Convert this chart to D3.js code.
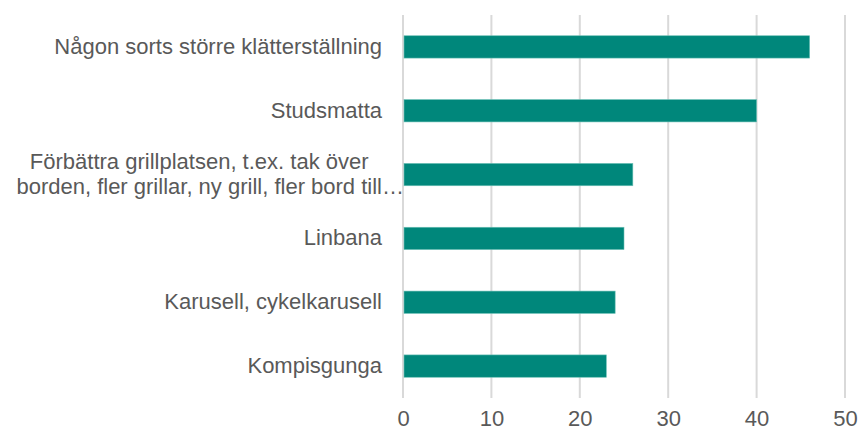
<!DOCTYPE html>
<html>
<head>
<meta charset="utf-8">
<script src="https://cdn.jsdelivr.net/npm/d3@7"></script>
<style>
  html, body { margin: 0; padding: 0; background: #fff; }
  svg { display: block; font-family: "Liberation Sans", Arial, sans-serif; }
</style>
</head>
<body>
<div id="chart"></div>
<script>
// data
const categories = [
  "Någon sorts större klätterställning",
  "Studsmatta",
  "Förbättra grillplatsen, t.ex. tak över borden, fler grillar, ny grill, fler bord till…",
  "Linbana",
  "Karusell, cykelkarusell",
  "Kompisgunga"
];
const labelLines = [
  ["Någon sorts större klätterställning"],
  ["Studsmatta"],
  ["Förbättra grillplatsen, t.ex. tak över", "borden, fler grillar, ny grill, fler bord till…"],
  ["Linbana"],
  ["Karusell, cykelkarusell"],
  ["Kompisgunga"]
];
const values = [46, 40, 26, 25, 24, 23];
const xTicks = [0, 10, 20, 30, 40, 50];

const width = 867, height = 432;
const margin = {top: 15, right: 22, bottom: 34, left: 403};
const fontSize = 22;

const svg = d3.select("#chart").append("svg")
    .attr("width", width)
    .attr("height", height);

const x = d3.scaleLinear()
    .domain([0, 50])
    .range([margin.left, width - margin.right]);

const y = d3.scaleBand()
    .domain(categories)
    .range([margin.top, height - margin.bottom])
    .paddingInner(0.65)
    .paddingOuter(0.325);

// gridlines
svg.append("g")
    .selectAll("line")
    .data(xTicks)
    .join("line")
    .attr("x1", d => x(d))
    .attr("x2", d => x(d))
    .attr("y1", margin.top)
    .attr("y2", height - margin.bottom)
    .style("stroke", "#d9d9d9")
    .style("stroke-width", 2);

// bars
svg.append("g")
    .selectAll("rect")
    .data(values)
    .join("rect")
    .attr("x", x(0) + 1)
    .attr("y", (d, i) => y(categories[i]))
    .attr("width", d => x(d) - x(0) - 1)
    .attr("height", y.bandwidth())
    .style("fill", "#00877b")
    .style("stroke", "#6cc0b6")
    .style("stroke-width", 0.6);

// x axis labels
const xAxis = d3.axisBottom(x).tickValues(xTicks).tickSize(0).tickPadding(0);
const gx = svg.append("g")
    .attr("transform", `translate(0,${height - margin.bottom})`)
    .call(xAxis);
gx.select(".domain").remove();
gx.selectAll("text")
    .attr("dy", null)
    .attr("y", 28)
    .style("font-family", "'Liberation Sans', Arial, sans-serif")
    .style("font-size", fontSize + "px")
    .style("fill", "#595959");

// category labels
const labelRight = x(0) - 21;
const lineH = 24.5;
const lg = svg.append("g");
labelLines.forEach((lines, i) => {
  const cy = y(categories[i]) + y.bandwidth() / 2;
  if (lines.length === 1) {
    lg.append("text")
      .style("font-size", fontSize + "px")
      .style("fill", "#595959")
      .attr("x", labelRight).attr("y", cy + 7)
      .attr("text-anchor", "end")
      .text(lines[0]);
  } else {
    // wrapped label: centred lines, last one ends in an ellipsis past the edge
    const probe = svg.append("text").style("font-size", fontSize + "px")
        .text(lines[lines.length - 1].replace("…", ""));
    const w = probe.node().getComputedTextLength();
    probe.remove();
    const cx = labelRight - w / 2;
    lines.forEach((ln, j) => {
      const off = (j - (lines.length - 1) / 2) * lineH;
      const tt = lg.append("text")
          .style("font-size", fontSize + "px")
          .style("fill", "#595959")
          .attr("y", cy + 7 + off);
      if (j === lines.length - 1) {
        tt.attr("x", labelRight - w).attr("text-anchor", "start").text(ln);
      } else {
        tt.attr("x", cx).attr("text-anchor", "middle").text(ln);
      }
    });
  }
});
</script>
</body>
</html>
